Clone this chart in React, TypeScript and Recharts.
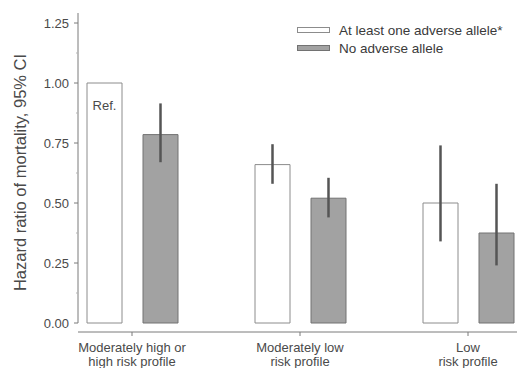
import React from 'react';
import {
  BarChart,
  Bar,
  XAxis,
  YAxis,
  ErrorBar,
  LabelList,
  Label,
} from 'recharts';

// risk profile groups
const categories = ['Moderately high or\nhigh risk profile', 'Moderately low\nrisk profile', 'Low\nrisk profile'];

// hazard ratios and 95% CI, at least one adverse allele
const withAllele = [1.0, 0.66, 0.5];
const withAlleleLow = [null, 0.58, 0.34];
const withAlleleHigh = [null, 0.745, 0.74];

// hazard ratios and 95% CI, no adverse allele
const noAllele = [0.785, 0.52, 0.375];
const noAlleleLow = [0.67, 0.44, 0.24];
const noAlleleHigh = [0.915, 0.605, 0.58];

const barNotes = ['Ref.', '', ''];

const yTicks = [0, 0.125, 0.25, 0.375, 0.5, 0.625, 0.75, 0.875, 1.0, 1.125, 1.25];
const yMajor = [0, 0.25, 0.5, 0.75, 1.0, 1.25];

const seriesNames = ['At least one adverse allele*', 'No adverse allele'];

const WHITE_FILL = '#ffffff';
const WHITE_STROKE = '#8c8c8c';
const GRAY_FILL = '#a2a2a2';
const GRAY_STROKE = '#727272';
const TEXT = '#4a4a4a';
const AXIS = '#7a7a7a';

const ciDelta = (v: number, lo: number | null, hi: number | null) =>
  lo == null || hi == null ? [0, 0] : [v - lo, hi - v];

const data = categories.map((name, i) => ({
  name,
  withAllele: withAllele[i],
  withAlleleErr: ciDelta(withAllele[i], withAlleleLow[i], withAlleleHigh[i]),
  noAllele: noAllele[i],
  noAlleleErr: ciDelta(noAllele[i], noAlleleLow[i], noAlleleHigh[i]),
  note: barNotes[i],
}));

const YTick = (props: any) => {
  const { x, y, payload } = props;
  const major = yMajor.includes(payload.value);
  const axisX = x + 8;
  return (
    <g>
      <line
        x1={axisX - (major ? 4 : 2)}
        x2={axisX}
        y1={y}
        y2={y}
        stroke={major ? AXIS : '#b5b5b5'}
        strokeWidth={1}
      />
      {major && (
        <text x={x - 1} y={y} dy="0.35em" textAnchor="end" fontSize={13} fill={TEXT}>
          {payload.value.toFixed(2)}
        </text>
      )}
    </g>
  );
};

const XTick = (props: any) => {
  const { x, y, payload } = props;
  const lines = String(payload.value).split('\n');
  return (
    <text x={x} y={y} textAnchor="middle" fontSize={13} fill={TEXT}>
      {lines.map((l, i) => (
        <tspan key={i} x={x} y={y + 14 + i * 13.5}>
          {l}
        </tspan>
      ))}
    </text>
  );
};

const LegendBox: React.FC<{ fill: string; stroke: string; label: string }> = ({ fill, stroke, label }) => (
  <div style={{ display: 'flex', alignItems: 'center', height: 18, whiteSpace: 'nowrap' }}>
    <div
      style={{
        flexShrink: 0,
        width: 31,
        height: 4,
        background: fill,
        border: `1px solid ${stroke}`,
        marginRight: 9,
      }}
    />
    <span style={{ fontSize: 13.5, color: '#3a3a3a' }}>{label}</span>
  </div>
);

export default function App() {
  return (
    <div
      style={{
        position: 'relative',
        width: 522,
        height: 368,
        fontFamily: '"Liberation Sans", Arial, sans-serif',
        background: '#fff',
      }}
    >
      <style>{'body { margin: 0; }'}</style>
      <BarChart
        width={522}
        height={368}
        data={data}
        margin={{ top: 13, right: 5, bottom: 0, left: 0 }}
        barSize={35}
        barGap={21}
      >
        <XAxis
          dataKey="name"
          interval={0}
          height={36}
          padding={{ left: -30, right: -35 }}
          axisLine={{ stroke: AXIS, strokeWidth: 1 }}
          tickLine={{ stroke: AXIS }}
          tickSize={4}
          tickMargin={2}
          tick={<XTick />}
        />
        <YAxis
          width={78}
          domain={[0, 1.25]}
          ticks={yTicks}
          interval={0}
          padding={{ top: 10, bottom: 9 }}
          axisLine={{ stroke: AXIS, strokeWidth: 1, strokeDasharray: '310 40' }}
          tickLine={false}
          tickSize={6}
          tickMargin={2}
          tick={<YTick />}
        >
          <Label
            value="Hazard ratio of mortality, 95% CI"
            angle={-90}
            position="insideLeft"
            offset={20}
            fontSize={16.5}
            fill={TEXT}
            style={{ textAnchor: 'middle' }}
          />
        </YAxis>
        <Bar
          dataKey="withAllele"
          name={seriesNames[0]}
          fill={WHITE_FILL}
          stroke={WHITE_STROKE}
          strokeWidth={1}
          isAnimationActive={false}
        >
          <ErrorBar dataKey="withAlleleErr" width={0} stroke="#555" strokeWidth={2.5} isAnimationActive={false} />
          <LabelList dataKey="note" position="insideTop" offset={18} fontSize={13} fill={TEXT} />
        </Bar>
        <Bar
          dataKey="noAllele"
          name={seriesNames[1]}
          fill={GRAY_FILL}
          stroke={GRAY_STROKE}
          strokeWidth={1}
          isAnimationActive={false}
        >
          <ErrorBar dataKey="noAlleleErr" width={0} stroke="#555" strokeWidth={2.5} isAnimationActive={false} />
        </Bar>
      </BarChart>
      <div style={{ position: 'absolute', left: 297, top: 21 }}>
        <LegendBox fill={WHITE_FILL} stroke={WHITE_STROKE} label={seriesNames[0]} />
        <LegendBox fill={GRAY_FILL} stroke={GRAY_STROKE} label={seriesNames[1]} />
      </div>
    </div>
  );
}
